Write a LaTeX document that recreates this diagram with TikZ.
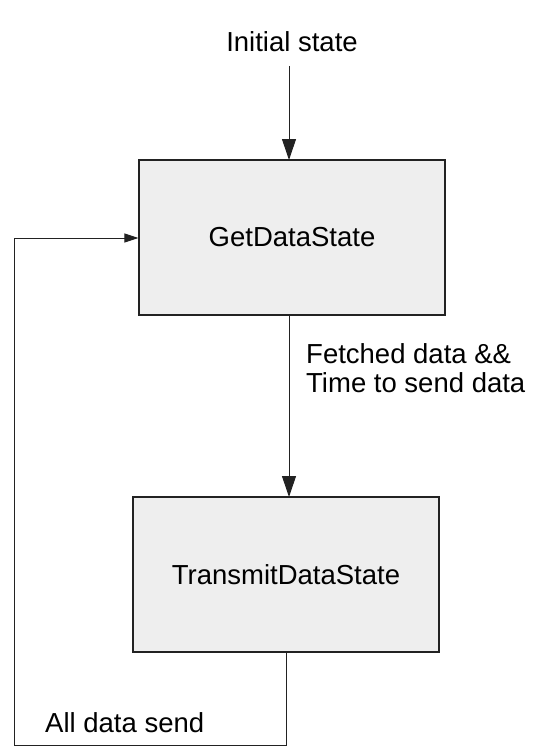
\documentclass[tikz,border=0pt]{standalone}
\usepackage{fontspec}
\setmainfont{Liberation Sans}
\usetikzlibrary{arrows.meta}
\definecolor{boxfill}{HTML}{EEEEEE}
\definecolor{linegray}{HTML}{222222}
\begin{document}
\begin{tikzpicture}[x=1pt,y=1pt,
  every node/.style={font=\fontsize{27.5}{29}\selectfont, text=black},
  statebox/.style={draw=linegray, line width=1.2pt, fill=boxfill, minimum width=306pt, minimum height=155pt, inner sep=0pt},
  lbl/.style={inner sep=0pt, anchor=base west, align=left},
  conn/.style={draw=linegray, line width=1pt},
  bigtip/.style={-{Triangle[length=21pt,width=14pt]}},
  smalltip/.style={-{Triangle[length=14pt,width=9pt]}}
]
\useasboundingbox (0,0) rectangle (544,-752);
\node[inner sep=0pt, anchor=base] (init) at (292,-52) {Initial state};
\node[statebox] (get) at (292,-237.5) {GetDataState};
\node[statebox] (trans) at (286,-574.5) {TransmitDataState};
\coordinate (a0) at (289,-66);
\coordinate (a1) at (289,-160);
\coordinate (m0) at (289,-315);
\coordinate (m1) at (289,-497);
\coordinate (lb) at (286,-745.5);
\coordinate (ll) at (14.5,-745.5);
\coordinate (lt) at (14.5,-238);
\draw[conn, bigtip] (a0) -- (a1);
\draw[conn, bigtip] (m0) -- (m1);
\draw[conn, smalltip] (trans.south) -- (lb) -- (ll) -- (lt) -- (get.west |- lt);
\node[lbl] (fetch) at (306,-392) {Fetched data \&\&\\Time to send data};
\node[lbl] (alls) at (45,-732) {All data send};
\end{tikzpicture}
\end{document}
